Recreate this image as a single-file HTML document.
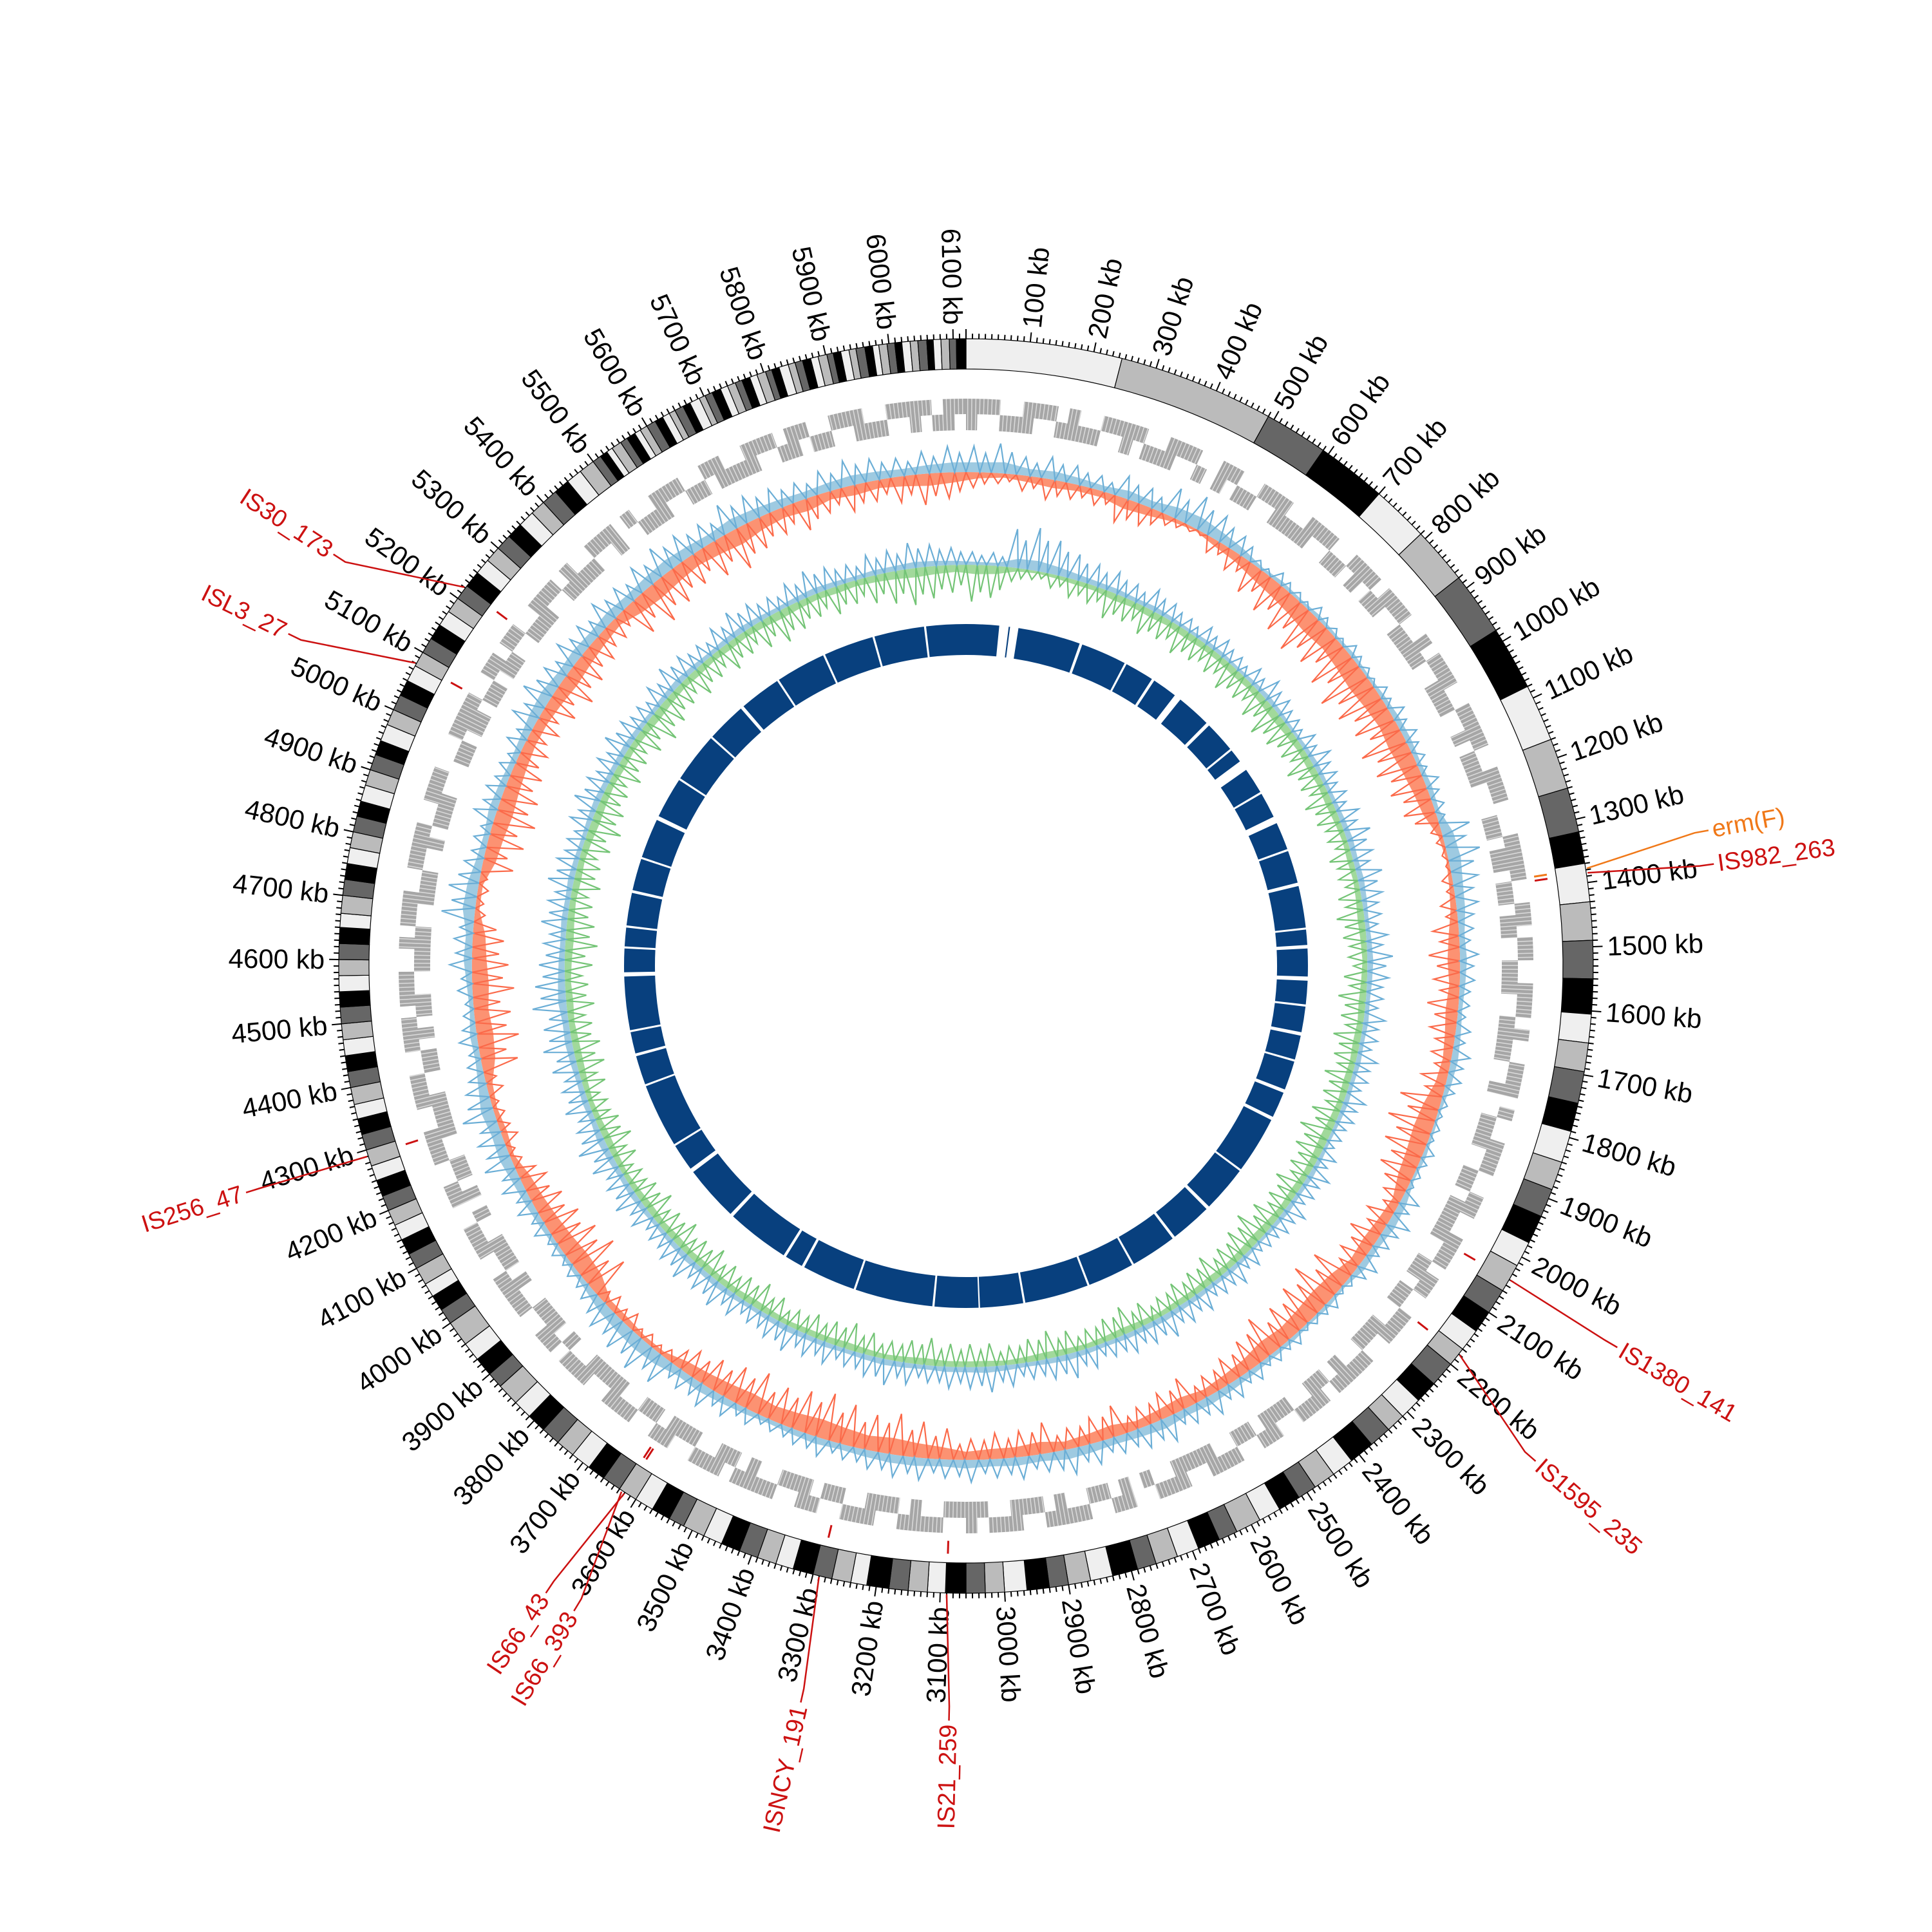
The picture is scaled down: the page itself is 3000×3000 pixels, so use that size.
<!DOCTYPE html>
<html><head><meta charset="utf-8"><style>
html,body{margin:0;padding:0;background:#fff}
svg{display:block}
.tl{font-family:"Liberation Sans Narrow","Liberation Sans",sans-serif;font-size:42px;fill:#000}
.il{font-family:"Liberation Sans Narrow","Liberation Sans",sans-serif;font-size:38px}
</style></head><body>
<svg id="chart" width="3000" height="3000" viewBox="0 0 3000 3000" xmlns="http://www.w3.org/2000/svg">
<rect width="3000" height="3000" fill="#fff"/>
<g id="gIdeo"></g>
<g id="gTicks"></g>
<g id="gTickLabels"></g>
<g id="gGenes"></g>
<g id="gSkew"></g>
<g id="gGC"></g>
<g id="gBlue"></g>
<g id="gIS"></g>
</svg>
<script>
const genomeLen = 6120;
const bandWidths = [245,245,100,110,90,90,100,100,90,80,70,50,60,60,60,55,45,45,50,45,50,45,45,45,40,45,40,
35,35,30,40,35,35,30,35,40,35,35,30,35,35,40,30,35,35,35,30,40,35,35,30,35,35,
30,30,32,28,30,30,35,25,30,30,32,28,30,30,30,30,35,25,30,30,30,30,28,32,30,30,30,30,35,25,30,30,40,
25,25,22,28,25,25,25,25,24,26,24,26,25,25,23,27,25,25,25,25,26,24,25,25,25,25,22,28,25,25,25,25,25,24,26,25,25,23,27,25,
25,25,26,24,25,25,25,25,24,26,25,25,25,25,26,24,25,25,25,25,
14,12,10,16,12,14,10,12,15,13,12,10,14,12,16,10,12,14,12,13,11,13,12,14,10,12,15,11,12,13,12,14,10,12,13,11,14,12,10,13,12,11,13,12,14,10,12,13,11,16];
const bandColors = ['#efefef','#bbbbbb','#666666','#000000'];
const geneBins = "caabbcaabcbbaacabbcaab.cabbaacbbcaabbacabcaabbcbaacbbaacabbcaa.bbaccabbacbaabbcaabcbbaac.abbcaabbacbbcaabcabbaacbbaacabcaabbcabbaacbbcaab.cabbaacabbcaabcbbaacabbcaabbacbbaacabcaabbcabbaacbbcaabacbbaacabbcaab.cabbaacbbcaabbacabcaabbcbaacbbaacabbcaa.bbaccabbacbaabbcaabcbbaac.abbcaabbacbbcaabcabbaacbbaacabcaabbcabbaacbbcaabcabbaacc";
const skewPos = [.7,.8,.5,.6,.5,.4,.6,.5,.8,.9,.7,.5,.2,.3,.2,.3,.2,.3,.2,.3,.4,.4,.3,.4,.3,.8,.9,.7,.6,.4,.5,.4,.3,.4,.5,.4,.2,.2,.3,.2,.5,.6,.4,.5,.2,.3,.2,.3,.3,.4,
.5,.6,.5,.7,.6,.5,.6,.7,.5,.6,.5,.6,.5,.6,.6,.5,.4,.5,.4,.3,.4,.5,.6,.5,.8,.9,.8,.7,.4,.3,.3,.4,.5,.6,.8,.7,.9,.6,.4,.5,.3,.4,.6,.5,.9,.8,.5,.4,.6,.5,.4,.5,
.7,.8,.6,.7,.6,.7,.6,.7,.8,.7,.6,.8,.7,.6,.5,.6,.7,.6,.5,.6,.7];
const skewNeg = [.3,.2,.3,.4,.3,.3,.5,.4,.2,.1,.3,.4,.6,.7,.8,.9,.8,.9,1,.9,.8,.9,.8,.7,.6,.2,.1,.2,.3,.5,.6,.5,.6,.5,.4,.5,.8,.9,.8,.7,.4,.5,.6,.5,.8,.9,.8,.7,.8,.6,
.5,.4,.6,.5,.4,.6,.5,.4,.6,.5,.5,.4,.6,.7,.8,.7,.8,.9,.8,.7,.8,.7,.6,.5,.2,.2,.3,.3,.8,.9,.8,.7,.6,.5,.2,.3,.2,.3,.7,.8,.7,.8,.7,.6,.2,.2,.6,.7,.8,.7,.6,.5,
.5,.6,.7,.6,.5,.4,.7,.8,.7,.6,.7,.8,.6,.5,.6,.4,.5,.4,.5,.6,.5];
const gcPos = [.3,.3,.9,1,.8,.6,.5,.5,.4,.5,.4,.3,.4,.4,.3,.4,.5,.4,.3,.4,.5,.4,.4,.5,.6,.5,.6,.5,.4,.5,.6,.5,.4,.5,.4,.5,.4,.5,.4,.3,.4,.5,.4,.5,.4,.3,.4,.5,.4,.5,
.5,.6,.5,.5,.4,.5,.6,.5,.4,.5,.6,.5,.5,.4,.5,.6,.5,.4,.5,.5,.6,.5,.4,.5,.6,.5,.6,.5,.4,.5,.6,.5,.6,.7,.5,.6,.5,.6,.7,.6,.8,.7,.6,.5,.6,.5,.6,.5,.4,.5,.6,.5,
.5,.6,.5,.4,.5,.6,.5,.4,.5,.6,.5,.4,.5,.6,.5,.4,.5,.5,.6,.5,.4];
const gcNeg = [.8,.7,.3,.2,.3,.4,.4,.6,.5,.6,.5,.6,.5,.5,.6,.5,.6,.7,.6,.5,.6,.5,.6,.5,.4,.5,.4,.5,.6,.5,.4,.5,.6,.5,.6,.5,.6,.5,.6,.7,.6,.5,.6,.5,.6,.7,.6,.5,.6,.5,
.5,.4,.5,.6,.5,.4,.5,.6,.5,.4,.5,.5,.5,.6,.5,.4,.5,.6,.5,.5,.4,.5,.6,.5,.5,.6,.5,.6,.5,.6,.5,.4,.5,.6,.5,.4,.5,.6,.6,.5,.6,.5,.6,.7,.6,.5,.6,.5,.6,.7,.6,.5,
.6,.5,.6,.7,.6,.5,.6,.5,.6,.5,.6,.7,.6,.5,.6,.5,.6,.7,.8,.7,.6];
const blueGaps = [[95,122],[126,150],[330,338],[470,476],[560,568],[640,660],[760,770],[860,866],[905,935],[1010,1016],[1090,1110],[1190,1196],[1290,1300],[1420,1426],[1470,1480],[1560,1572],[1640,1646],[1720,1730],[1800,1806],[1890,1900],[1975,1985],[2150,2156],[2290,2300],[2420,2428],[2560,2566],[2700,2706],[2890,2896],[3020,3024],[3150,3156],[3380,3386],[3540,3548],[3600,3608],[3790,3800],[3960,3972],[4050,4056],[4240,4246],[4330,4338],[4400,4406],[4560,4572],[4640,4646],[4700,4706],[4800,4808],[4900,4906],[5020,5032],[5150,5156],[5300,5306],[5420,5430],[5550,5556],[5700,5706],[5850,5856],[6000,6006]];
const isNames = ['erm(F)','IS982_263','IS1380_141','IS1595_235','IS21_259','ISNCY_191','IS66_43','IS66_393','IS256_47','ISL3_27','IS30_173'];
const isPos = [1378,1385,2040,2180,3090,3290,3620,3625,4290,5080,5220];
const isLabelPos = [1354,1398,2046,2227,3082,3275,3635,3592,4293,5034,5152];
const isColors = ['#f07818','#cc1111','#cc1111','#cc1111','#cc1111','#cc1111','#cc1111','#cc1111','#cc1111','#cc1111','#cc1111'];

const NS='http://www.w3.org/2000/svg', CX=1500, CY=1500;
const ang = kb => kb/genomeLen*2*Math.PI;
function P(r,kb){const a=ang(kb);return [CX+r*Math.sin(a),CY-r*Math.cos(a)];}
function wedge(k1,k2,r1,r2){
  const a=P(r2,k1),b=P(r2,k2),c=P(r1,k2),d=P(r1,k1);const lg=(k2-k1)/genomeLen>0.5?1:0;
  return `M${a[0].toFixed(1)},${a[1].toFixed(1)}A${r2},${r2} 0 ${lg} 1 ${b[0].toFixed(1)},${b[1].toFixed(1)}L${c[0].toFixed(1)},${c[1].toFixed(1)}A${r1},${r1} 0 ${lg} 0 ${d[0].toFixed(1)},${d[1].toFixed(1)}Z`;
}
function circ(r){return `M${CX},${CY-r}A${r},${r} 0 1 1 ${CX},${CY+r}A${r},${r} 0 1 1 ${CX},${CY-r}Z`;}
function mk(tag,parent,attrs){const e=document.createElementNS(NS,tag);for(const k in attrs)e.setAttribute(k,attrs[k]);parent.appendChild(e);return e;}

// ideogram
const gI=document.getElementById('gIdeo');
let pos=0;
bandWidths.forEach((w,i)=>{
  const end=Math.min(pos+w,genomeLen); if(pos>=genomeLen) return;
  const e=mk('path',gI,{d:wedge(pos,end,927,974),fill:bandColors[i%4],stroke:'#000','stroke-width':1.2});
  
  
  pos+=w;
});
// ticks
const gT=document.getElementById('gTicks');
let td='';
for(let k=0;k<genomeLen;k+=10){const big=k%100===0;const a=P(974,k),b=P(big?989:982,k);td+=`M${a[0].toFixed(1)},${a[1].toFixed(1)}L${b[0].toFixed(1)},${b[1].toFixed(1)}`;}
const tp=mk('path',gT,{d:td,stroke:'#000','stroke-width':2,fill:'none'});


const gL=document.getElementById('gTickLabels');
function radialText(parent,txt,kb,r,cls,color){
  const deg=kb/genomeLen*360;const p=P(r,kb);
  const t=mk('text',parent,{x:p[0].toFixed(1),y:p[1].toFixed(1),class:cls,'dominant-baseline':'central'});
  if(deg<180){t.setAttribute('transform',`rotate(${(deg-90).toFixed(2)} ${p[0].toFixed(1)} ${p[1].toFixed(1)})`);t.setAttribute('text-anchor','start');}
  else{t.setAttribute('transform',`rotate(${(deg+90).toFixed(2)} ${p[0].toFixed(1)} ${p[1].toFixed(1)})`);t.setAttribute('text-anchor','end');}
  if(color)t.setAttribute('fill',color);
  t.textContent=txt;return t;
}
for(let k=100;k<genomeLen;k+=100){
  const t=radialText(gL,k+' kb',k,996,'tl');
  
  
}
// gene tiles
const gG=document.getElementById('gGenes');
let gd='';
const binKb=20;
for(let i=0;i*binKb<genomeLen;i++){
  const c=geneBins[i]||'c';const k1=i*binKb,k2=Math.min(k1+binKb,genomeLen);
  if(c==='a'||c==='c') gd+=wedge(k1,k2,857,881);
  if(c==='b'||c==='c') gd+=wedge(k1,k2,832,857);
}
const gp=mk('path',gG,{d:gd,fill:'#a6a6a6'});


let wl='';
for(let k=3;k<genomeLen;k+=7){const a=P(832,k),b=P(881,k);wl+=`M${a[0].toFixed(1)},${a[1].toFixed(1)}L${b[0].toFixed(1)},${b[1].toFixed(1)}`;}
const gw=mk('path',gG,{d:wl,stroke:'#fff','stroke-width':1.5,'stroke-opacity':0.6,fill:'none'});


// area tracks
function areaPath(vals,base,scale,dir){
  const step=genomeLen/vals.length;let d='';
  vals.forEach((v,i)=>{const p=P(base+dir*v*scale,(i+0.5)*step);d+=(i?'L':'M')+p[0].toFixed(1)+','+p[1].toFixed(1);});
  d+='Z'+circ(base);
  return d;
}
function spikes(vals,base,scale,dir){
  const step=genomeLen/vals.length;let d='';
  vals.forEach((v,i)=>{
    const a=P(base,i*step),b=P(base+dir*v*scale*1.15,(i+0.3)*step),c=P(base,(i+0.55)*step),e=P(base+dir*v*scale*0.85,(i+0.75)*step),f=P(base,(i+1)*step);
    d+=`M${a[0].toFixed(1)},${a[1].toFixed(1)}L${b[0].toFixed(1)},${b[1].toFixed(1)}L${c[0].toFixed(1)},${c[1].toFixed(1)}L${e[0].toFixed(1)},${e[1].toFixed(1)}L${f[0].toFixed(1)},${f[1].toFixed(1)}`;
  });
  return d;
}
const gS=document.getElementById('gSkew');
let e;
e=mk('path',gS,{d:areaPath(skewNeg,767,32,-1),fill:'#fc9272','fill-rule':'evenodd'});


e=mk('path',gS,{d:spikes(skewNeg,767,70,-1),fill:'none',stroke:'#fb6a4a','stroke-width':2.2});


e=mk('path',gS,{d:areaPath(skewPos,767,22,1),fill:'#9ecae1','fill-rule':'evenodd'});


e=mk('path',gS,{d:spikes(skewPos,767,50,1),fill:'none',stroke:'#6baed6','stroke-width':2.2});


const gC=document.getElementById('gGC');
e=mk('path',gC,{d:areaPath(gcNeg,623,18,-1),fill:'#a1d99b','fill-rule':'evenodd'});


e=mk('path',gC,{d:spikes(gcNeg,623,62,-1),fill:'none',stroke:'#74c476','stroke-width':2.2});


e=mk('path',gC,{d:areaPath(gcPos,623,16,1),fill:'#9ecae1','fill-rule':'evenodd'});


e=mk('path',gC,{d:spikes(gcPos,623,58,1),fill:'none',stroke:'#6baed6','stroke-width':2.2});


// blue tiles
const gB=document.getElementById('gBlue');
let bd='',last=0;
blueGaps.forEach(g=>{if(g[0]>last)bd+=wedge(last,g[0],483,531);last=g[1];});
if(last<genomeLen)bd+=wedge(last,genomeLen,483,531);
e=mk('path',gB,{d:bd,fill:'#08407e'});


// IS labels
const gS2=document.getElementById('gIS');
isNames.forEach((n,i)=>{
  const col=isColors[i];
  const a=P(893,isPos[i]),b=P(913,isPos[i]);
  let l=mk('path',gS2,{d:`M${a[0]},${a[1]}L${b[0]},${b[1]}`,stroke:col,'stroke-width':3});
  
  
  const c=P(976,isPos[i]),d=P(1150,isLabelPos[i]),f=P(1172,isLabelPos[i]);
  l=mk('path',gS2,{d:`M${c[0]},${c[1]}L${d[0]},${d[1]}L${f[0]},${f[1]}`,stroke:col,'stroke-width':2.5,fill:'none'});
  
  
  const t=radialText(gS2,n,isLabelPos[i],1178,'il',col);
  
  
});
</script>
</body></html>
